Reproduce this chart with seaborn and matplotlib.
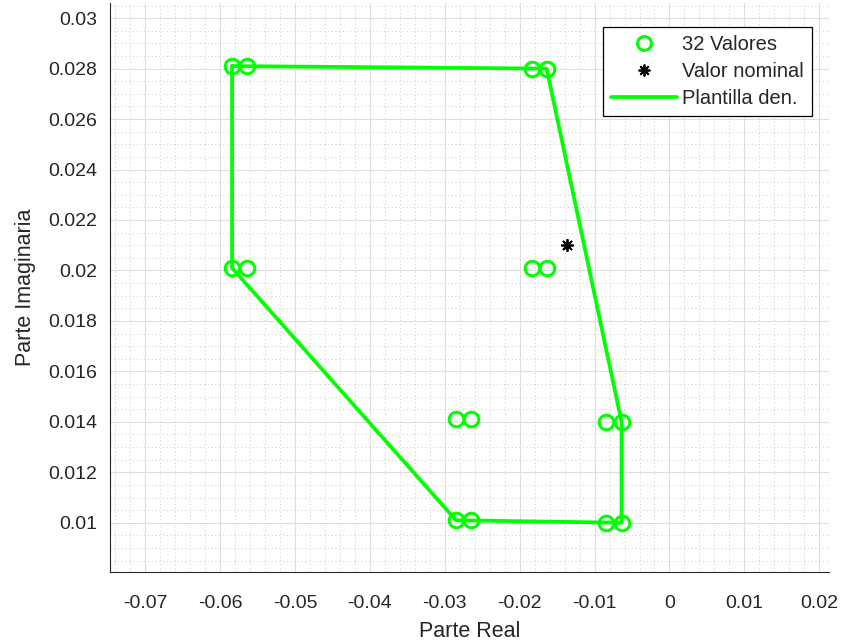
import matplotlib
matplotlib.use("Agg")
import matplotlib.pyplot as plt
import seaborn as sns
import pandas as pd
from matplotlib.ticker import MultipleLocator
from matplotlib.lines import Line2D

# 32 values (pairs of visible positions)
val_re = [-0.0584, -0.0564, -0.0184, -0.0164,
          -0.0584, -0.0564, -0.0184, -0.0164,
          -0.0285, -0.0265, -0.0085, -0.0064,
          -0.0285, -0.0265, -0.0085, -0.0064]
val_im = [0.0281, 0.0281, 0.0280, 0.0280,
          0.0201, 0.0201, 0.0201, 0.0201,
          0.0141, 0.0141, 0.0140, 0.0140,
          0.0101, 0.0101, 0.0100, 0.0100]

nom_re = [-0.01365]
nom_im = [0.0210]

tpl_re = [-0.0584, -0.0164, -0.0064, -0.0064, -0.0285, -0.0584, -0.0584]
tpl_im = [0.0281, 0.0280, 0.0140, 0.0100, 0.0101, 0.0201, 0.0281]

xticks = [-0.07, -0.06, -0.05, -0.04, -0.03, -0.02, -0.01, 0, 0.01, 0.02]
xtick_labels = ["-0.07", "-0.06", "-0.05", "-0.04", "-0.03", "-0.02", "-0.01", "0", "0.01", "0.02"]
yticks = [0.01, 0.012, 0.014, 0.016, 0.018, 0.02, 0.022, 0.024, 0.026, 0.028, 0.03]
ytick_labels = ["0.01", "0.012", "0.014", "0.016", "0.018", "0.02", "0.022", "0.024", "0.026", "0.028", "0.03"]

sns.set_style("white")
plt.rcParams['font.family'] = ['Liberation Sans', 'DejaVu Sans']

fig = plt.figure(figsize=(8.44, 6.4), dpi=100)
ax = fig.add_axes([110/844, 1-571.7/640, (829-110)/844, (571.7-3)/640])

GREEN = (0, 1, 0)
DARK = (0.15, 0.15, 0.15)
df_tpl = pd.DataFrame({"re": tpl_re, "im": tpl_im})

sns.lineplot(data=df_tpl, x="re", y="im", sort=False, estimator=None,
             color=GREEN, linewidth=2.7, ax=ax, zorder=3)
ax.plot(val_re, val_im, linestyle='none', marker='o', markersize=10.5,
        markerfacecolor='none', markeredgecolor=GREEN, markeredgewidth=2.2, zorder=4)
ax.plot(nom_re, nom_im, linestyle='none', marker=(8, 2, 0), markersize=9,
        color='black', markeredgewidth=1.3, zorder=5)

ax.set_xlim(-0.0747, 0.0213)
ax.set_ylim(0.00806, 0.0306)
ax.xaxis.set_minor_locator(MultipleLocator(0.002))
ax.yaxis.set_minor_locator(MultipleLocator(0.0005))
ax.set_xticks(xticks)
ax.set_xticklabels(xtick_labels)
ax.set_yticks(yticks)
ax.set_yticklabels(ytick_labels)

ax.grid(which='major', color=(0.87, 0.87, 0.87), linewidth=0.8, linestyle='-')
ax.grid(which='minor', color=(0.72, 0.72, 0.72), linewidth=0.6, linestyle=(0, (1, 3.5)))
ax.set_axisbelow(True)

for s in ['top', 'right']:
    ax.spines[s].set_visible(False)
for s in ['left', 'bottom']:
    ax.spines[s].set_color(DARK)
    ax.spines[s].set_linewidth(0.8)

ax.tick_params(which='major', direction='in', length=5, width=0.8,
               colors=DARK, labelsize=14)
ax.tick_params(which='minor', length=0)
ax.tick_params(axis='x', pad=17)
ax.tick_params(axis='y', pad=9)

ax.set_xlabel("Parte Real", fontsize=15.5, color=DARK, labelpad=6)
ax.set_ylabel("Parte Imaginaria", fontsize=15.5, color=DARK, labelpad=9)

handles = [
    Line2D([], [], linestyle='none', marker='o', markersize=10, markerfacecolor='none',
           markeredgecolor=GREEN, markeredgewidth=2.2),
    Line2D([], [], linestyle='none', marker=(8, 2, 0), markersize=8.5, color='black',
           markeredgewidth=1.3),
    Line2D([], [], color=GREEN, linewidth=2.7),
]
leg = ax.legend(handles, ["32 Valores", "Valor nominal", "Plantilla den."],
                loc='upper right', bbox_to_anchor=(812/844, 1-27/640),
                bbox_transform=fig.transFigure, fontsize=14.5, frameon=True,
                fancybox=False, edgecolor='black', framealpha=1,
                handlelength=3.3, handletextpad=0.25, borderpad=0.4,
                labelspacing=0.4, borderaxespad=0)
leg.get_frame().set_linewidth(0.9)

fig.savefig("out.png", dpi=100)
